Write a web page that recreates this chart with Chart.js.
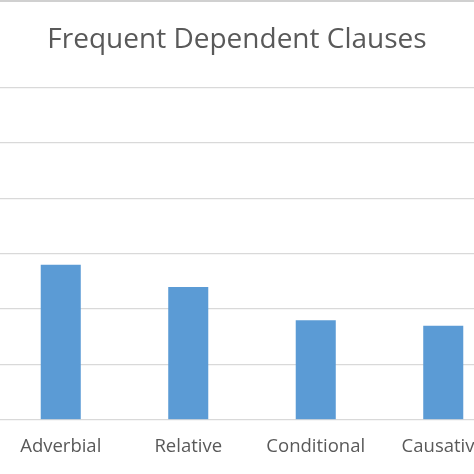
<!DOCTYPE html>
<html>
<head>
<meta charset="utf-8">
<script src="https://cdn.jsdelivr.net/npm/chart.js@4"></script>
<style>
  html, body { margin: 0; padding: 0; width: 474px; height: 474px; overflow: hidden; background: #fff; }
  #topline { position: absolute; left: 0; top: 0; width: 474px; height: 2px; background: #d0d0d0; z-index: 2; }
  #wrap { position: absolute; left: -33px; top: 0; width: 540px; height: 474px; }
</style>
</head>
<body>
<div id="topline"></div>
<div id="wrap"><canvas id="c"></canvas></div>
<script>
const chartTitle = 'Frequent Dependent Clauses';
const categories = ['Adverbial', 'Relative', 'Conditional', 'Causative'];
const clauseValues = [28, 24, 18, 17];
const yTicks = { min: 0, max: 60, step: 10 };

const textColor = '#595959';
const gridColor = '#d9d9d9';

new Chart(document.getElementById('c'), {
  type: 'bar',
  data: {
    labels: categories,
    datasets: [{
      label: 'Frequency',
      data: clauseValues,
      backgroundColor: '#5B9BD5',
      borderWidth: 0,
      categoryPercentage: 1,
      barPercentage: 0.314
    }]
  },
  options: {
    responsive: true,
    maintainAspectRatio: false,
    animation: false,
    layout: { padding: 0 },
    plugins: {
      legend: { display: false },
      tooltip: { enabled: false },
      title: {
        display: true,
        text: chartTitle,
        color: textColor,
        font: { family: 'Open Sans', size: 28, weight: 'normal', lineHeight: 1.2 },
        padding: { top: 23, bottom: 31 }
      }
    },
    scales: {
      x: {
        grid: { display: false, drawTicks: false },
        border: { display: false },
        ticks: {
          color: textColor,
          font: { family: 'Open Sans', size: 18.5 },
          padding: 16,
          maxRotation: 0,
          autoSkip: false
        }
      },
      y: {
        min: yTicks.min,
        max: yTicks.max,
        afterFit: (scale) => { scale.width = 30; },
        grid: { color: gridColor, lineWidth: 1.3, drawTicks: false },
        border: { display: false },
        ticks: {
          stepSize: yTicks.step,
          color: textColor,
          font: { family: 'Open Sans', size: 14 },
          padding: 6
        }
      }
    }
  }
});
</script>
</body>
</html>
